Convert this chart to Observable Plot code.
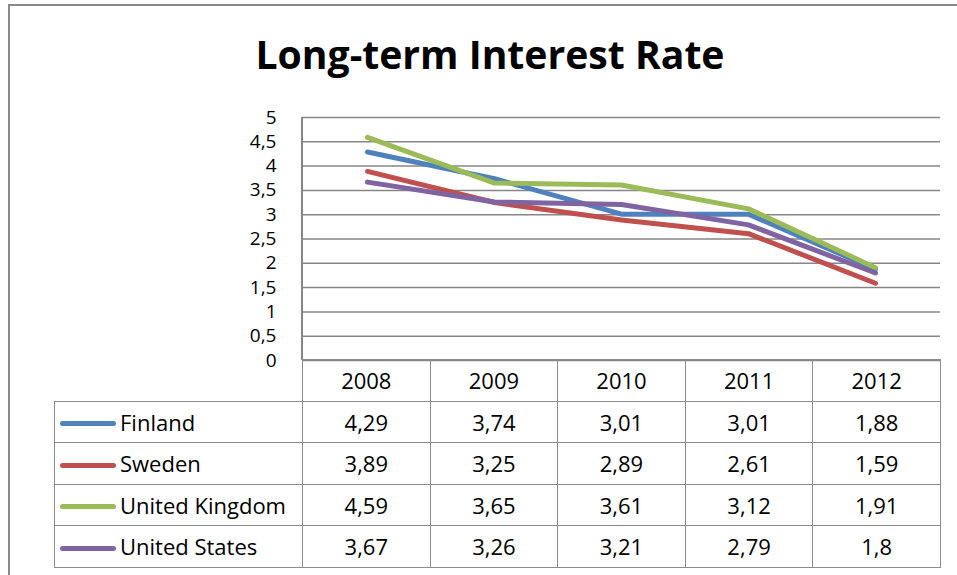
<!DOCTYPE html>
<html>
<head>
<meta charset="utf-8">
<script src="https://cdn.jsdelivr.net/npm/d3@7"></script>
<script src="https://cdn.jsdelivr.net/npm/@observablehq/plot@0.6"></script>
<style>
  html, body { margin: 0; padding: 0; background: #fff; }
  #wrap { position: relative; width: 957px; height: 575px; overflow: hidden; font-family: "Open Sans", sans-serif; }
  #frame { position: absolute; left: 8px; top: 4px; width: 1000px; height: 700px; border-left: 2px solid #8a8a8a; border-top: 2px solid #8a8a8a; }
  #title { position: absolute; left: 0; top: 0; }
  #chart { position: absolute; left: 0; top: 0; }
  #leftline { position: absolute; left: 301px; top: 117px; width: 1.5px; height: 243px; background: #868686; }
  table { position: absolute; left: 54px; top: 359px; border-collapse: collapse; table-layout: fixed; font-size: 22px; color: #000; }
  td { border: 1.5px solid #8c8c8c; height: 40.5px; padding: 0; text-align: center; white-space: nowrap; line-height: 24px; }
  td.blank { border: none; border-right: 1.5px solid #8c8c8c; }
  td.name { text-align: left; padding-left: 5px; }
  .sw { display: inline-block; width: 56px; height: 5px; border-radius: 3px; vertical-align: middle; margin-right: 4px; position: relative; top: -1px; }
</style>
</head>
<body>
<div id="wrap">
  <div id="frame"></div>
  <svg id="title" width="957" height="100"><text x="490" y="69" text-anchor="middle" font-family="Open Sans" font-weight="700" font-size="40" textLength="469" lengthAdjust="spacingAndGlyphs" fill="#000">Long-term Interest Rate</text></svg>
  <div id="leftline"></div>
  <div id="chart"></div>
  <table id="tbl"></table>
</div>
<script>
const years = ["2008", "2009", "2010", "2011", "2012"];
const countries = ["Finland", "Sweden", "United Kingdom", "United States"];
const colors = ["#4F81BD", "#C0504D", "#9BBB59", "#8064A2"];
const finland = [4.29, 3.74, 3.01, 3.01, 1.88];
const sweden = [3.89, 3.25, 2.89, 2.61, 1.59];
const unitedKingdom = [4.59, 3.65, 3.61, 3.12, 1.91];
const unitedStates = [3.67, 3.26, 3.21, 2.79, 1.8];
const yTicks = [0, 0.5, 1, 1.5, 2, 2.5, 3, 3.5, 4, 4.5, 5];

const seriesValues = [finland, sweden, unitedKingdom, unitedStates];
const data = countries.flatMap((c, i) => years.map((y, j) => ({country: c, year: y, value: seriesValues[i][j]})));
const fmt = v => String(v).replace(".", ",");

const chart = Plot.plot({
  width: 957,
  height: 575,
  marginLeft: 302,
  marginRight: 17,
  marginTop: 117,
  marginBottom: 215,
  style: {background: "transparent", fontFamily: "Open Sans", fontSize: "19px", color: "#000"},
  x: {type: "point", domain: years, padding: 0.5, axis: null},
  y: {domain: [0, 5], ticks: yTicks, grid: false},
  color: {domain: countries, range: colors},
  marks: [
    Plot.gridY(yTicks, {stroke: "#868686", strokeOpacity: 1, strokeWidth: 1.5}),
    Plot.axisY(yTicks, {tickSize: 0, tickPadding: 26, tickFormat: fmt, fontSize: 19, fill: "#000", label: null}),
    Plot.line(data, {x: "year", y: "value", z: "country", stroke: "country", strokeWidth: 5, strokeLinecap: "round", strokeLinejoin: "round"})
  ]
});
document.getElementById("chart").appendChild(chart);

// data table
const tbl = document.getElementById("tbl");
const colW = [248, 127.6, 127.6, 127.6, 127.6, 127.6];
const cg = document.createElement("colgroup");
colW.forEach(w => { const c = document.createElement("col"); c.style.width = w + "px"; cg.appendChild(c); });
tbl.appendChild(cg);
const hr = document.createElement("tr");
const blank = document.createElement("td"); blank.className = "blank"; hr.appendChild(blank);
years.forEach(y => { const td = document.createElement("td"); td.textContent = y; hr.appendChild(td); });
tbl.appendChild(hr);
countries.forEach((c, i) => {
  const tr = document.createElement("tr");
  const n = document.createElement("td"); n.className = "name";
  const sw = document.createElement("span"); sw.className = "sw"; sw.style.background = colors[i];
  n.appendChild(sw); n.appendChild(document.createTextNode(c));
  tr.appendChild(n);
  seriesValues[i].forEach(v => { const td = document.createElement("td"); td.textContent = fmt(v); tr.appendChild(td); });
  tbl.appendChild(tr);
});
</script>
</body>
</html>
